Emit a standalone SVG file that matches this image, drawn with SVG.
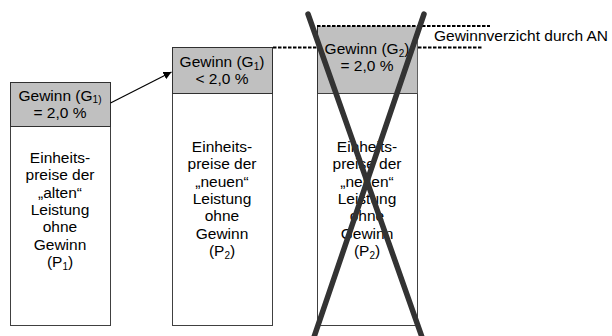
<svg xmlns="http://www.w3.org/2000/svg" width="612" height="336" viewBox="0 0 612 336">
  <defs>
    <style>
      .t { font-family: "Liberation Sans", Arial, sans-serif; font-size: 15.5px; fill: #000; text-anchor: middle; }
      .lbl { font-family: "Liberation Sans", Arial, sans-serif; font-size: 15.5px; fill: #000; }
      .head { fill: #c0c0c0; stroke: #303030; stroke-width: 1; }
      .body { fill: #fff; stroke: #404040; stroke-width: 1; }
      .dash { stroke: #000; stroke-width: 2; stroke-dasharray: 3.5 1.5; fill: none; }
      .cross { stroke: #333; stroke-width: 5.5; stroke-linecap: round; fill: none; }
      .conn { stroke: #000; stroke-width: 1.2; fill: none; }
    </style>
    <marker id="arrowhead" viewBox="0 0 10 10" refX="10" refY="5" markerWidth="8" markerHeight="8" markerUnits="userSpaceOnUse" orient="auto">
      <path d="M0,0 L10,5 L0,10 z" fill="#000"/>
    </marker>
  </defs>

  <rect width="612" height="336" fill="#fff"/>

  <!-- old service: unit prices without profit, profit 2.0 % -->
  <g id="box-old">
    <rect class="body" x="10.5" y="126.5" width="100" height="199"/>
    <rect class="head" x="10.5" y="82.5" width="100" height="44"/>
    <text class="t" x="60" y="101">Gewinn (G<tspan font-size="10" dy="2">1)</tspan></text>
    <text class="t" x="60" y="118">= 2,0 %</text>
    <text class="t" x="60" y="163">Einheits-</text>
    <text class="t" x="60" y="180.3">preise der</text>
    <text class="t" x="60" y="197.6">„alten“</text>
    <text class="t" x="60" y="214.9">Leistung</text>
    <text class="t" x="60" y="232.2">ohne</text>
    <text class="t" x="60" y="249.5">Gewinn</text>
    <text class="t" x="60" y="266.8">(P<tspan font-size="10" dy="3">1</tspan><tspan dy="-3">)</tspan></text>
  </g>

  <!-- new service: reduced profit -->
  <g id="box-new">
    <rect class="body" x="172.5" y="93.5" width="100" height="232"/>
    <rect class="head" x="172.5" y="47.5" width="100" height="46"/>
    <text class="t" x="222" y="67">Gewinn (G<tspan font-size="10" dy="3">1</tspan><tspan dy="-3">)</tspan></text>
    <text class="t" x="222" y="84">&lt; 2,0 %</text>
    <text class="t" x="222" y="152">Einheits-</text>
    <text class="t" x="222" y="169.3">preise der</text>
    <text class="t" x="222" y="186.6">„neuen“</text>
    <text class="t" x="222" y="203.9">Leistung</text>
    <text class="t" x="222" y="221.2">ohne</text>
    <text class="t" x="222" y="238.5">Gewinn</text>
    <text class="t" x="222" y="255.8">(P<tspan font-size="10" dy="3">2</tspan><tspan dy="-3">)</tspan></text>
  </g>

  <!-- rejected variant: full profit on new prices -->
  <g id="box-rejected">
    <rect x="317.5" y="26" width="100" height="67.5" fill="#c0c0c0"/>
    <rect x="317.5" y="93.5" width="100" height="232" fill="#fff" stroke="#404040" stroke-width="1"/>
    <line x1="317.5" y1="26" x2="317.5" y2="93.5" stroke="#303030" stroke-width="1"/>
    <line x1="417.5" y1="26" x2="417.5" y2="93.5" stroke="#606060" stroke-width="1"/>
    <text class="t" x="367" y="54">Gewinn (G<tspan font-size="10" dy="3">2</tspan><tspan dy="-3">)</tspan></text>
    <text class="t" x="367" y="71">= 2,0 %</text>
    <text class="t" x="367" y="152">Einheits-</text>
    <text class="t" x="367" y="169.3">preise der</text>
    <text class="t" x="367" y="186.6">„neuen“</text>
    <text class="t" x="367" y="203.9">Leistung</text>
    <text class="t" x="367" y="221.2">ohne</text>
    <text class="t" x="367" y="238.5">Gewinn</text>
    <text class="t" x="367" y="255.8">(P<tspan font-size="10" dy="3">2</tspan><tspan dy="-3">)</tspan></text>
  </g>

  <g id="label-waiver">
    <text class="lbl" x="434" y="41">Gewinnverzicht durch AN</text>
  </g>

  <!-- connectors and reference lines -->
  <g id="connectors">
    <line class="conn" x1="110.5" y1="103" x2="171.5" y2="72" marker-end="url(#arrowhead)"/>
    <line class="dash" x1="317" y1="26" x2="490" y2="26"/>
    <line class="dash" x1="273" y1="47.5" x2="317" y2="47.5"/>
    <line class="dash" x1="418" y1="47.5" x2="482" y2="47.5"/>
  </g>

  <!-- strike-through cross over the rejected variant -->
  <g id="cross">
    <line class="cross" x1="308" y1="14" x2="423" y2="340"/>
    <line class="cross" x1="424" y1="14" x2="313" y2="340"/>
  </g>
</svg>
